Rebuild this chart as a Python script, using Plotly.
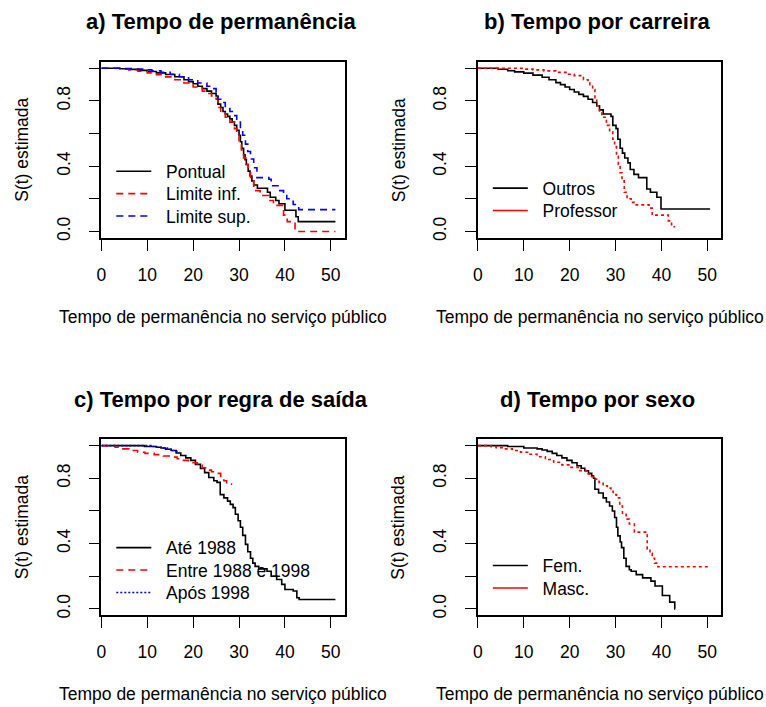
import plotly.graph_objects as go

# ---------------- data ----------------
x_ticks = [0, 10, 20, 30, 40, 50]
y_ticks = [0.0, 0.2, 0.4, 0.6, 0.8, 1.0]
y_ticktext = ["0.0", "", "0.4", "", "0.8", ""]

titles = ["a) Tempo de permanência", "b) Tempo por carreira",
          "c) Tempo por regra de saída", "d) Tempo por sexo"]
x_title = "Tempo de permanência no serviço público"
y_title = "S(t) estimada"

# a) Pontual + limits
pont_t = [0, 4, 6, 8, 10, 12, 14, 16, 18, 19, 20, 21, 22, 23, 24, 25, 25.4, 26, 26.5, 27,
          27.5, 28, 28.5, 29, 29.5, 30, 30.3, 30.6, 31, 31.3, 31.6, 32, 32.4, 32.8, 33.2, 34,
          36.2, 36.8, 38, 38.7, 40, 42.4, 42.9, 51]
pont_s = [1.0, .997, .993, .987, .98, .972, .962, .948, .93, .918, .905, .89, .875, .86, .845,
          .83, .78, .76, .735, .72, .705, .69, .67, .65, .62, .59, .55, .51, .47, .44, .41, .37,
          .34, .31, .285, .265, .24, .21, .19, .17, .13, .09, .06, .06]
inf_t = [0, 4, 6, 8, 10, 12, 14, 16, 18, 20, 22, 23, 24, 25, 25.4, 26, 27, 28, 29, 29.5, 30,
         30.5, 31, 31.5, 32, 32.5, 33.2, 34.6, 36.5, 37.5, 39.7, 40.5, 42.2, 51]
inf_s = [1.0, .995, .99, .982, .972, .96, .947, .93, .91, .885, .86, .845, .83, .81, .76, .73,
         .70, .67, .63, .59, .55, .50, .45, .41, .36, .31, .25, .22, .19, .16, .10, .06, .0, .0]
sup_t = [0, 5, 7, 9, 11, 13, 15, 17, 19, 21, 23, 24, 25, 25.4, 26, 27, 28, 28.9, 29.5, 30.3,
         30.8, 31.4, 31.9, 32.5, 33.2, 33.9, 36.5, 37, 38.5, 39.7, 40.4, 41.8, 43, 51]
sup_s = [1.0, .998, .995, .99, .984, .975, .963, .948, .93, .91, .89, .875, .855, .81, .79, .76,
         .735, .71, .67, .63, .59, .535, .49, .444, .39, .33, .32, .28, .25, .22, .2, .165, .134,
         .134]

# b) carreira
outros_t = [0, 4.4, 6.5, 8, 10, 12, 14, 15.5, 17, 18, 19, 20, 21, 22, 23, 24, 25, 25.9, 26.5,
            27.3, 29, 29.4, 30.1, 30.5, 31, 31.5, 32, 32.7, 33.2, 34, 35, 36.8, 37.6, 39, 39.9,
            50.6]
outros_s = [1.0, .994, .985, .978, .97, .958, .945, .93, .912, .9, .885, .87, .855, .84, .828,
            .81, .79, .77, .745, .72, .705, .65, .63, .565, .51, .48, .45, .42, .38, .35, .33,
            .26, .24, .21, .138, .138]
prof_t = [0, 10, 12, 14.4, 17, 19.4, 21, 23, 24, 24.4, 25, 25.5, 25.9, 26.5, 27, 28, 28.7,
          29.4, 29.8, 30.2, 30.6, 31, 31.4, 31.9, 32.5, 33.4, 34.5, 37.3, 38, 41.5, 42.2, 43]
prof_s = [1.0, .995, .99, .984, .975, .963, .955, .93, .915, .9, .87, .82, .77, .73, .70, .65,
          .61, .565, .52, .46, .41, .36, .31, .24, .2, .178, .163, .143, .1, .065, .029, .029]

# c) regra de saida
ate_t = [0, 9.4, 12, 13, 14, 15.2, 16.3, 17.3, 18.4, 19.5, 20.5, 21.6, 22.5, 23.4, 24.5, 25.2,
         25.9, 26.7, 27.5, 28.1, 28.7, 29.2, 29.8, 30.3, 30.8, 31.4, 31.9, 32.5, 33, 33.5,
         34.3, 36.1, 37, 38.2, 39.3, 40, 41.8, 42.6, 43.1, 51]
ate_s = [1.0, .995, .99, .986, .978, .97, .955, .94, .925, .91, .885, .86, .835, .805, .785,
         .775, .70, .68, .66, .64, .62, .58, .54, .50, .45, .395, .35, .31, .28, .26, .245,
         .23, .20, .18, .15, .119, .109, .068, .057, .057]
entre_t = [0, 3, 4.3, 6, 7.9, 9.5, 11.5, 13.5, 15.1, 16.5, 17.3, 19, 20.9, 22, 23, 24, 25.2,
           26, 26.7, 27.3, 28.5]
entre_s = [1.0, .99, .98, .97, .96, .953, .945, .937, .93, .92, .91, .895, .88, .865, .85, .84,
           .83, .80, .785, .764, .764]
apos_t = [0, 10.8, 12, 13, 14.4, 15.5, 16.3, 17.1]
apos_s = [1.0, .995, .99, .985, .978, .97, .965, .965]

# d) sexo
fem_t = [0, 6.5, 10, 12.9, 14, 15.1, 16.2, 17.2, 18.3, 19.4, 20.5, 21.6, 22.5, 23.3, 24.1,
         24.8, 25.2, 25.5, 26.3, 27.3, 28, 28.7, 29.3, 29.8, 30.2, 30.5, 31, 31.3, 31.8, 32.3,
         33, 33.4, 34.5, 35.9, 37.7, 38.6, 40.2, 41.8, 42.9, 43]
fem_s = [1.0, .995, .986, .98, .973, .965, .953, .94, .925, .91, .895, .877, .862, .846, .83,
         .815, .80, .733, .71, .68, .655, .63, .60, .56, .50, .447, .41, .375, .31, .26, .24,
         .23, .21, .19, .17, .14, .082, .041, .0, .0]
masc_t = [0, 2.9, 4, 5.7, 7.5, 9.3, 11, 12.9, 14.7, 16.5, 18.3, 20.1, 21.9, 23.7, 24.6, 25.5,
          26.4, 27.3, 28.2, 29, 29.5, 30.2, 30.9, 31.5, 32.3, 33, 34.1, 36.9, 37.5, 38, 38.5,
          39.2, 50.3]
masc_s = [1.0, .994, .988, .98, .97, .96, .947, .932, .915, .898, .882, .867, .847, .826, .81,
          .795, .775, .754, .74, .72, .70, .68, .63, .58, .55, .52, .47, .365, .34, .31, .28,
          .258, .258]

# ---------------- layout geometry ----------------
W, H = 766, 707
cols = [(97, 342), (476, 721)]
rows = [(62, 239), (441, 618)]
FONT = "Liberation Sans, Arial, sans-serif"
TXT = 17.5
ROW_GAP = 22.5
LW = 1.6

BLACK, RED, BLUE = "#000000", "#FF0000", "#0000FF"
DASH = "7px,5px"
DOT = "3px,3px"
FINE_DOT = "2px,2px"
PAD = "\u00a0\u00a0"

fig = go.Figure()


def px_x(v):
    return v / W


def px_y(v):
    return 1 - v / H


legend_specs = []  # (legend id, panel col, panel row, entry index)


def new_legend(ci, ri, k):
    lid = "legend" if not legend_specs else "legend%d" % (len(legend_specs) + 1)
    legend_specs.append((lid, ci, ri, k))
    return lid


def add_curve(t, s, axis, color, dash, name=None, legend=None):
    fig.add_trace(go.Scatter(
        x=t, y=s, mode="lines", line=dict(color=color, width=LW, dash=dash, shape="hv"),
        xaxis="x" + axis, yaxis="y" + axis,
        name=(PAD + name) if name else None, legend=legend,
        showlegend=name is not None, hoverinfo="skip"))


def add_legend_only(axis, color, dash, name, legend):
    fig.add_trace(go.Scatter(
        x=[None], y=[None], mode="lines", line=dict(color=color, width=LW, dash=dash),
        xaxis="x" + axis, yaxis="y" + axis, name=PAD + name, legend=legend, showlegend=True))


# a
add_curve(pont_t, pont_s, "", BLACK, "solid", "Pontual", new_legend(0, 0, 0))
add_curve(inf_t, inf_s, "", RED, DASH, "Limite inf.", new_legend(0, 0, 1))
add_curve(sup_t, sup_s, "", BLUE, DASH, "Limite sup.", new_legend(0, 0, 2))
# b
add_curve(outros_t, outros_s, "2", BLACK, "solid", "Outros", new_legend(1, 0, 0))
add_curve(prof_t, prof_s, "2", RED, DOT, None)
add_legend_only("2", RED, "solid", "Professor", new_legend(1, 0, 1))
# c
add_curve(ate_t, ate_s, "3", BLACK, "solid", "Até 1988", new_legend(0, 1, 0))
add_curve(entre_t, entre_s, "3", RED, DASH, "Entre 1988 e 1998", new_legend(0, 1, 1))
add_curve(apos_t, apos_s, "3", BLUE, FINE_DOT, "Após 1998", new_legend(0, 1, 2))
# d
add_curve(fem_t, fem_s, "4", BLACK, "solid", "Fem.", new_legend(1, 1, 0))
add_curve(masc_t, masc_s, "4", RED, DOT, None)
add_legend_only("4", RED, "solid", "Masc.", new_legend(1, 1, 1))

layout = dict(
    width=W, height=H, margin=dict(l=0, r=0, t=0, b=0),
    paper_bgcolor="white", plot_bgcolor="white",
    font=dict(family=FONT, size=TXT, color="black"),
)

axis_ids = ["", "2", "3", "4"]
panels = [(0, 0), (1, 0), (0, 1), (1, 1)]
annotations = []

for aid, (ci, ri), title in zip(axis_ids, panels, titles):
    x0, x1 = cols[ci]
    y0, y1 = rows[ri]
    layout["xaxis" + aid] = dict(
        domain=[px_x(x0), px_x(x1)], range=[0, 53.04], anchor="y" + aid,
        tickvals=x_ticks, ticktext=[str(v) for v in x_ticks],
        ticks="outside", ticklen=11, tickwidth=1.2, tickcolor="black",
        showline=True, linecolor="black", linewidth=1.6, mirror=True,
        showgrid=False, zeroline=False, ticklabelstandoff=9,
        tickfont=dict(size=TXT, color="black"))
    layout["yaxis" + aid] = dict(
        domain=[px_y(y1), px_y(y0)], range=[-0.04, 1.04], anchor="x" + aid,
        tickvals=y_ticks, ticktext=y_ticktext, tickangle=-90,
        ticks="outside", ticklen=11, tickwidth=1.2, tickcolor="black",
        showline=True, linecolor="black", linewidth=1.6, mirror=True,
        showgrid=False, zeroline=False, ticklabelstandoff=12,
        tickfont=dict(size=TXT, color="black"))
    cx = (x0 + x1) / 2
    cy = (y0 + y1) / 2
    annotations.append(dict(text="<b>" + title + "</b>", x=px_x(cx - 2), y=px_y(y0 - 40),
                            xref="paper", yref="paper", showarrow=False,
                            xanchor="center", yanchor="middle",
                            font=dict(size=22, family=FONT, color="black")))
    annotations.append(dict(text=x_title, x=px_x(cx), y=px_y(y1 + 79),
                            xref="paper", yref="paper", showarrow=False,
                            xanchor="center", yanchor="middle",
                            font=dict(size=TXT, family=FONT, color="black")))
    annotations.append(dict(text=y_title, x=px_x(x0 - 80), y=px_y(cy),
                            xref="paper", yref="paper", showarrow=False, textangle=-90,
                            xanchor="center", yanchor="middle",
                            font=dict(size=TXT, family=FONT, color="black")))

# first legend row centre (px) for each panel
first_row = {(0, 0): 172, (1, 0): 189, (0, 1): 550, (1, 1): 568}
for lid, ci, ri, k in legend_specs:
    x0 = cols[ci][0]
    row_c = first_row[(ci, ri)] + k * ROW_GAP
    layout[lid] = dict(x=px_x(x0 + 10), y=px_y(row_c - 18), xanchor="left", yanchor="top",
                       bgcolor="rgba(0,0,0,0)", borderwidth=0,
                       font=dict(size=TXT, family=FONT, color="black"),
                       tracegroupgap=0, itemwidth=35)

layout["annotations"] = annotations
fig.update_layout(**layout)
fig.write_html("out.html")
